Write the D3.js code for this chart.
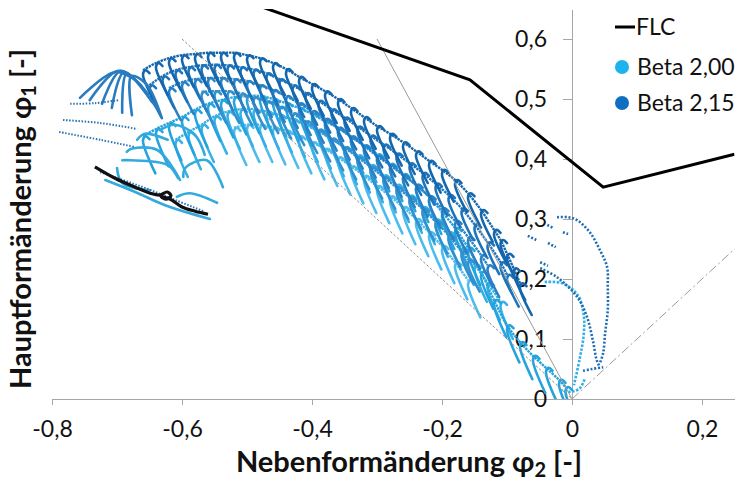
<!DOCTYPE html>
<html>
<head>
<meta charset="utf-8">
<title>FLD Beta</title>
<script src="https://cdnjs.cloudflare.com/ajax/libs/d3/7.8.5/d3.min.js"></script>
<style>
    body {margin: 0; background: #fff;}
    text {font-family: Lato, "Open Sans", sans-serif; fill: #111;}
    .axis path, .axis line {stroke: #a6a6a6; stroke-width: 1; shape-rendering: crispEdges;}
    .axis text {font-size: 23px;}
    .traj {fill: none; stroke-width: 2.6; stroke-linejoin: round; stroke-linecap: round;}
    .band {fill: none; stroke-width: 2.4; stroke-dasharray: 2.5 0.8;}
</style>
</head>
<body>
<div id="chart"></div>
<script>
// axes
const xTicks = [-0.8, -0.6, -0.4, -0.2, 0, 0.2];
const yTicks = [0, 0.1, 0.2, 0.3, 0.4, 0.5, 0.6];

// forming limit curve
const flc = [[-0.6, 0.70], [-0.157, 0.532], [0.048, 0.353], [0.25, 0.408]];

// reference strain paths (shear, uniaxial, biaxial)
const refShear = [[-0.6, 0.6], [0, 0]];
const refUniax = [[-0.3, 0.6], [0, 0]];
const refBiax = [[0, 0], [0.27, 0.27]];

// Beta 2,15 - hook tops along each band (phi2, phi1)
const bandD1 = [[-0.66,0.548],[-0.64,0.560],[-0.62,0.568],[-0.60,0.573],[-0.58,0.575],[-0.56,0.577],[-0.54,0.577],[-0.52,0.577],[-0.50,0.573],[-0.48,0.568],[-0.46,0.560],[-0.44,0.550],[-0.42,0.537],[-0.40,0.525],[-0.38,0.513],[-0.36,0.500],[-0.34,0.485],[-0.32,0.470],[-0.30,0.455],[-0.28,0.442],[-0.26,0.428],[-0.24,0.413],[-0.22,0.397],[-0.20,0.382],[-0.18,0.365],[-0.16,0.343],[-0.14,0.315],[-0.12,0.282],[-0.11,0.265],[-0.10,0.242],[-0.09,0.218],[-0.08,0.193]];
const bandD2 = [[-0.65,0.523],[-0.63,0.538],[-0.61,0.548],[-0.59,0.553],[-0.57,0.556],[-0.55,0.557],[-0.53,0.556],[-0.51,0.553],[-0.49,0.549],[-0.47,0.543],[-0.45,0.533],[-0.43,0.523],[-0.41,0.510],[-0.39,0.497],[-0.37,0.483],[-0.35,0.469],[-0.33,0.454],[-0.31,0.439],[-0.29,0.424],[-0.27,0.409],[-0.25,0.393],[-0.23,0.377],[-0.21,0.359],[-0.19,0.340],[-0.17,0.318],[-0.15,0.291],[-0.13,0.261],[-0.11,0.228],[-0.10,0.207]];
const bandD3 = [[-0.62,0.518],[-0.60,0.528],[-0.58,0.533],[-0.56,0.535],[-0.54,0.535],[-0.52,0.533],[-0.50,0.530],[-0.48,0.523],[-0.46,0.515],[-0.44,0.505],[-0.42,0.493],[-0.40,0.480],[-0.38,0.467],[-0.36,0.452],[-0.34,0.437],[-0.32,0.422],[-0.30,0.405],[-0.28,0.390],[-0.26,0.373],[-0.24,0.357],[-0.22,0.338],[-0.20,0.318],[-0.18,0.297],[-0.16,0.270],[-0.14,0.240],[-0.13,0.223]];
const bandD4 = [[-0.57,0.512],[-0.55,0.513],[-0.53,0.513],[-0.51,0.509],[-0.49,0.503],[-0.47,0.496],[-0.45,0.487],[-0.43,0.476],[-0.41,0.463],[-0.39,0.449],[-0.37,0.434],[-0.35,0.419],[-0.33,0.403],[-0.31,0.387],[-0.29,0.370],[-0.27,0.353],[-0.25,0.336],[-0.23,0.317],[-0.21,0.296],[-0.19,0.273],[-0.17,0.246],[-0.16,0.232]];

// Beta 2,00 - hook tops along each band
const bandL1 = [[-0.66,0.438],[-0.64,0.450],[-0.62,0.460],[-0.60,0.470],[-0.58,0.482],[-0.56,0.492],[-0.54,0.498],[-0.52,0.503],[-0.50,0.505],[-0.48,0.505],[-0.46,0.500],[-0.44,0.493],[-0.42,0.485],[-0.40,0.475],[-0.38,0.463],[-0.36,0.452],[-0.34,0.438],[-0.32,0.423],[-0.30,0.408],[-0.28,0.392],[-0.26,0.375],[-0.24,0.357],[-0.22,0.337],[-0.20,0.312],[-0.18,0.285],[-0.16,0.252],[-0.14,0.212],[-0.12,0.165],[-0.10,0.123],[-0.08,0.095],[-0.06,0.072],[-0.04,0.052],[-0.02,0.032],[-0.01,0.020]];
const bandL2 = [[-0.61,0.432],[-0.59,0.445],[-0.57,0.457],[-0.55,0.471],[-0.53,0.479],[-0.51,0.483],[-0.49,0.483],[-0.47,0.479],[-0.45,0.473],[-0.43,0.466],[-0.41,0.457],[-0.39,0.446],[-0.37,0.433],[-0.35,0.420],[-0.33,0.406],[-0.31,0.390],[-0.29,0.373],[-0.27,0.357],[-0.25,0.339],[-0.23,0.320],[-0.21,0.299],[-0.19,0.278],[-0.17,0.252],[-0.15,0.224],[-0.13,0.194],[-0.11,0.162]];
const bandL3 = [[-0.52,0.452],[-0.50,0.457],[-0.48,0.457],[-0.46,0.453],[-0.44,0.447],[-0.42,0.438],[-0.40,0.428],[-0.38,0.417],[-0.36,0.403],[-0.34,0.388],[-0.32,0.372],[-0.30,0.355],[-0.28,0.338],[-0.26,0.320],[-0.24,0.300],[-0.22,0.278],[-0.20,0.255],[-0.18,0.228],[-0.16,0.198]];

// typical strain path around each hook top: tail end, turning point, top, hook end
const hookDark = [[0.018,-0.053],[0.000,-0.007],[0.004,0],[0.010,-0.005]];
const hookLight = [[0.019,-0.062],[0.000,-0.007],[0.004,0],[0.010,-0.005]];

// Beta 2,15 - separate paths
const fanDark = [
    [[-0.757,0.502],[-0.703,0.545],[-0.672,0.532]],
    [[-0.742,0.498],[-0.698,0.547],[-0.662,0.522]],
    [[-0.723,0.492],[-0.694,0.547],[-0.652,0.508]],
    [[-0.708,0.485],[-0.689,0.545],[-0.646,0.495]],
    [[-0.692,0.477],[-0.685,0.542],[-0.637,0.482]],
    [[-0.677,0.473],[-0.678,0.538],[-0.655,0.525],[-0.631,0.468]]
];
const dottedDark = [
    [[-0.772,0.492],[-0.734,0.493],[-0.698,0.498]],
    [[-0.783,0.465],[-0.726,0.460],[-0.669,0.450]],
    [[-0.789,0.445],[-0.726,0.432],[-0.672,0.420]],
    [[-0.726,0.378],[-0.665,0.355],[-0.611,0.332],[-0.565,0.312]]
];
const arcsDark = [
    [[-0.023,0.303],[-0.006,0.303],[0.008,0.298],[0.028,0.277],[0.043,0.248],[0.054,0.220],[0.055,0.187],[0.055,0.148],[0.051,0.110],[0.048,0.077],[0.043,0.060]],
    [[-0.049,0.218],[-0.023,0.203],[0.008,0.170],[0.023,0.137],[0.032,0.098],[0.038,0.065],[0.043,0.053]],
    [[0.017,0.047],[0.031,0.050],[0.048,0.053]],
    [[-0.038,0.290],[-0.029,0.285]],
    [[-0.014,0.278],[-0.006,0.275]],
    [[-0.037,0.260],[-0.025,0.253]],
    [[-0.068,0.272],[-0.055,0.265]],
    [[-0.049,0.228],[-0.037,0.222]]
];

// Beta 2,00 - separate paths
const hooksLight = [
    [[-0.685,0.412],[-0.678,0.417],[-0.638,0.415],[-0.603,0.365]],
    [[-0.700,0.385],[-0.692,0.360],[-0.649,0.348]],
    [[-0.598,0.370],[-0.595,0.385],[-0.562,0.398],[-0.537,0.353]],
    [[-0.608,0.337],[-0.588,0.343],[-0.546,0.327]],
    [[-0.669,0.432],[-0.657,0.442],[-0.622,0.432]],
    [[-0.692,0.398],[-0.680,0.398],[-0.622,0.390],[-0.606,0.368]],
    [[-0.634,0.448],[-0.611,0.457],[-0.580,0.440],[-0.565,0.407]],
    [[-0.718,0.365],[-0.672,0.345],[-0.626,0.323],[-0.557,0.300]]
];
const arcsLight = [
    [[-0.042,0.195],[-0.015,0.193],[0.009,0.173],[0.018,0.140],[0.018,0.107],[0.012,0.068],[0.003,0.023]],
    [[-0.018,0.015],[-0.003,0.012],[0.012,0.018],[0.020,0.035]]
];

// measured black path
const blackPath = [[-0.734,0.387],[-0.703,0.368],[-0.672,0.353],[-0.649,0.343],[-0.634,0.340],[-0.623,0.345],[-0.617,0.339],[-0.624,0.333],[-0.632,0.337],[-0.618,0.333],[-0.600,0.320],[-0.580,0.313],[-0.560,0.308]];

const legendItems = ['FLC', 'Beta 2,00', 'Beta 2,15'];

const w = 756;
const h = 484;

const svg = d3.select('#chart').append('svg')
    .attr('width', w)
    .attr('height', h);

const x = d3.scaleLinear().domain([-0.8, 0.25]).range([52, 734.5]);
const y = d3.scaleLinear().domain([0, 0.65]).range([399, 9]);

const fmt = v => (v === 0 ? '0' : d3.format('.1f')(v).replace('.', ',').replace('−', '-'));

svg.append('defs').append('clipPath').attr('id', 'plot')
    .append('rect')
    .attr('x', x(-0.8)).attr('y', y(0.65))
    .attr('width', x(0.25) - x(-0.8)).attr('height', y(0) - y(0.65));

// axes
svg.append('g').attr('class', 'axis')
    .attr('transform', `translate(0, ${y(0)})`)
    .call(d3.axisBottom(x).tickValues(xTicks).tickFormat(fmt).tickSize(6).tickSizeOuter(0).tickPadding(16));

svg.append('g').attr('class', 'axis')
    .attr('transform', `translate(${x(0)}, 0)`)
    .call(d3.axisLeft(y).tickValues(yTicks).tickFormat(fmt).tickSize(9).tickSizeOuter(0).tickPadding(16));

svg.selectAll('.axis text').style('fill', '#111');

const line = d3.line().x(d => x(d[0])).y(d => y(d[1])).curve(d3.curveCatmullRom.alpha(0.5));
const plot = svg.append('g').attr('clip-path', 'url(#plot)');

function drawPaths(paths, color, cls, extra) {
    const sel = plot.append('g').selectAll('path').data(paths).join('path')
        .attr('class', cls)
        .attr('d', line)
        .attr('stroke', color);
    if (extra) extra(sel);
}

function hooks(band, tmpl) {
    return band.map(v => tmpl.map(o => [v[0] + o[0], v[1] + o[1]]));
}

function drawBand(band, tmpl, color) {
    drawPaths(hooks(band, tmpl), color, 'traj');
    drawPaths([band], color, 'band');
}

// Beta 2,00
drawBand(bandL3, hookLight, '#4cbcec');
drawBand(bandL2, hookLight, '#36b0e6');
drawBand(bandL1, hookLight, '#25a3dd');
drawPaths(hooksLight, '#33aade', 'traj');
drawPaths(arcsLight, '#2fb0e8', 'traj', s => s.style('stroke-dasharray', '2.5 1.5').style('stroke-linecap', 'butt'));

// Beta 2,15
drawBand(bandD4, hookDark, '#3290cf');
drawBand(bandD3, hookDark, '#2882c5');
drawBand(bandD2, hookDark, '#1d74bb');
drawBand(bandD1, hookDark, '#1467ad');
drawPaths(fanDark, '#2a7cc0', 'traj');
drawPaths(dottedDark, '#2672b6', 'traj', s => s.style('stroke-dasharray', '1.5 1.6').style('stroke-width', 2).style('stroke-linecap', 'butt'));
drawPaths(arcsDark, '#1c6db3', 'traj', s => s.style('stroke-dasharray', '2 1.8').style('stroke-linecap', 'butt'));

// black path
plot.append('path').datum(blackPath)
    .attr('d', line).attr('fill', 'none')
    .attr('stroke', '#111').attr('stroke-width', 3.2);

// reference lines
const straight = d3.line().x(d => x(d[0])).y(d => y(d[1]));
plot.append('path').datum(refShear).attr('d', straight)
    .attr('fill', 'none').attr('stroke', '#8c8c8c').attr('stroke-width', 1).attr('stroke-dasharray', '2.5 2');
plot.append('path').datum(refUniax).attr('d', straight)
    .attr('fill', 'none').attr('stroke', '#9a9a9a').attr('stroke-width', 1);
plot.append('path').datum(refBiax).attr('d', straight)
    .attr('fill', 'none').attr('stroke', '#9a9a9a').attr('stroke-width', 1).attr('stroke-dasharray', '9 3 2 3');

// FLC
plot.append('path').datum(flc).attr('d', straight)
    .attr('fill', 'none').attr('stroke', '#000').attr('stroke-width', 3);

// legend
const legend = svg.append('g').attr('transform', 'translate(615, 0)');
legend.append('line').attr('x1', 0).attr('x2', 20).attr('y1', 27).attr('y2', 27)
    .attr('stroke', '#000').attr('stroke-width', 3);
legend.append('circle').attr('cx', 7).attr('cy', 67).attr('r', 7).attr('fill', '#1db3ec');
legend.append('circle').attr('cx', 7).attr('cy', 103).attr('r', 7).attr('fill', '#0e6fc0');
legend.selectAll('text.leg').data(legendItems).join('text')
    .attr('class', 'leg')
    .attr('x', (d, i) => (i === 0 ? 21 : 22))
    .attr('y', (d, i) => [27, 67, 103][i])
    .attr('dy', '0.35em')
    .style('font-size', '23px')
    .text(d => d);

// axis titles
const xt = svg.append('text')
    .attr('x', 409).attr('y', 472)
    .attr('text-anchor', 'middle')
    .style('font-size', '29px').style('font-weight', 'bold');
xt.append('tspan').text('Nebenformänderung φ');
xt.append('tspan').attr('dy', 5).style('font-size', '20px').text('2');
xt.append('tspan').attr('dy', -5).text(' [-]');

const yt = svg.append('text')
    .attr('transform', 'translate(31, 219) rotate(-90)')
    .attr('text-anchor', 'middle')
    .style('font-size', '29px').style('font-weight', 'bold');
yt.append('tspan').text('Hauptformänderung φ');
yt.append('tspan').attr('dy', 5).style('font-size', '20px').text('1');
yt.append('tspan').attr('dy', -5).text(' [-]');
</script>
</body>
</html>
